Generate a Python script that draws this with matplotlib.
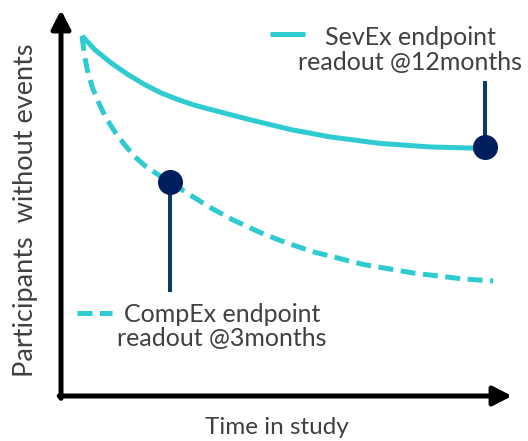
import matplotlib.pyplot as plt

# ── Data (time in months, % participants without events) ──────────────────────
sev_t = [0, 0.378, 0.864, 1.370, 1.867, 2.353, 2.859, 3.356, 3.990, 5.003,
         6.194, 7.385, 8.874, 10.363, 11.763, 12.0]
sev_y = [99.45, 95.66, 91.99, 88.76, 86.0, 83.70, 81.85, 80.30, 78.73, 76.30,
         73.62, 71.55, 69.75, 68.78, 68.43, 68.40]

comp_t = [0, 0.080, 0.179, 0.328, 0.527, 0.715, 0.974, 1.272, 1.569, 1.906,
          2.263, 2.621, 3.216, 3.812, 4.497, 5.301, 5.896, 6.492, 6.879, 8.368,
          9.857, 11.346, 12.239]
comp_y = [99.45, 93.73, 89.23, 84.71, 80.39, 76.80, 73.01, 69.34, 66.10, 63.34,
          61.13, 59.12, 55.52, 52.07, 48.62, 45.17, 42.96, 41.02, 39.83, 36.33,
          33.98, 32.32, 31.77]

readout_t  = [12.0, 2.62]
readout_y  = [68.8, 59.1]
stem_end_y = [86.5, 29.3]
labels     = ['SevEx endpoint\nreadout @12months', 'CompEx endpoint\nreadout @3months']

TEAL = '#2ECBD0'
NAVY = '#001E5E'
STEM = '#0B3B68'
TXT  = '#404040'

plt.rcParams['font.family'] = ['Lato', 'DejaVu Sans']

fig = plt.figure(figsize=(5.28, 4.41), dpi=100)
ax = fig.add_axes([61/528, 1 - 396/441, 451/528, 386/441])
ax.set_xlim(-0.625, 12.8)
ax.set_ylim(0, 106.6)
ax.axis('off')

# axes with arrow heads
arrow = dict(arrowstyle='-|>,head_width=0.32,head_length=0.62', lw=3.6,
             color='black', shrinkA=0, shrinkB=0, mutation_scale=18)
ax.annotate('', xy=(0, 1), xytext=(0, -0.006), xycoords='axes fraction',
            arrowprops=arrow)
ax.annotate('', xy=(1, 0), xytext=(-0.004, 0), xycoords='axes fraction',
            arrowprops=arrow)

# curves
ax.plot(sev_t, sev_y, color=TEAL, lw=3.6, solid_capstyle='butt',
        solid_joinstyle='round', zorder=3)
ax.plot(comp_t, comp_y, color=TEAL, lw=3.6, dashes=(3.0, 1.5), zorder=3)

# readout markers with stems
for t, y, ye in zip(readout_t, readout_y, stem_end_y):
    ax.plot([t, t], [y, ye], color=STEM, lw=2.9, zorder=4)
    ax.plot(t, y, 'o', color=NAVY, ms=17, zorder=5)

# legend-like key lines and labels
ax.plot([5.6, 6.64], [99.9, 99.9], color=TEAL, lw=3.6, solid_capstyle='butt',
        clip_on=False)
ax.text(9.77, 95.6, labels[0], ha='center', va='center', fontsize=18,
        color=TXT, linespacing=1.1)
ax.plot([-0.15, 0.89], [22.9, 22.9], color=TEAL, lw=3.6, dashes=(3.0, 1.5),
        clip_on=False)
ax.text(4.17, 19.2, labels[1], ha='center', va='center', fontsize=18,
        color=TXT, linespacing=1.1)

fig.text(26/528, 1 - 210/441, 'Participants  without events', rotation=90,
         ha='center', va='center', fontsize=19.5, color=TXT)
fig.text(277/528, 1 - 428/441, 'Time in study', ha='center', va='center',
         fontsize=17.5, color=TXT)

fig.savefig('out.png', dpi=100, facecolor='white')
